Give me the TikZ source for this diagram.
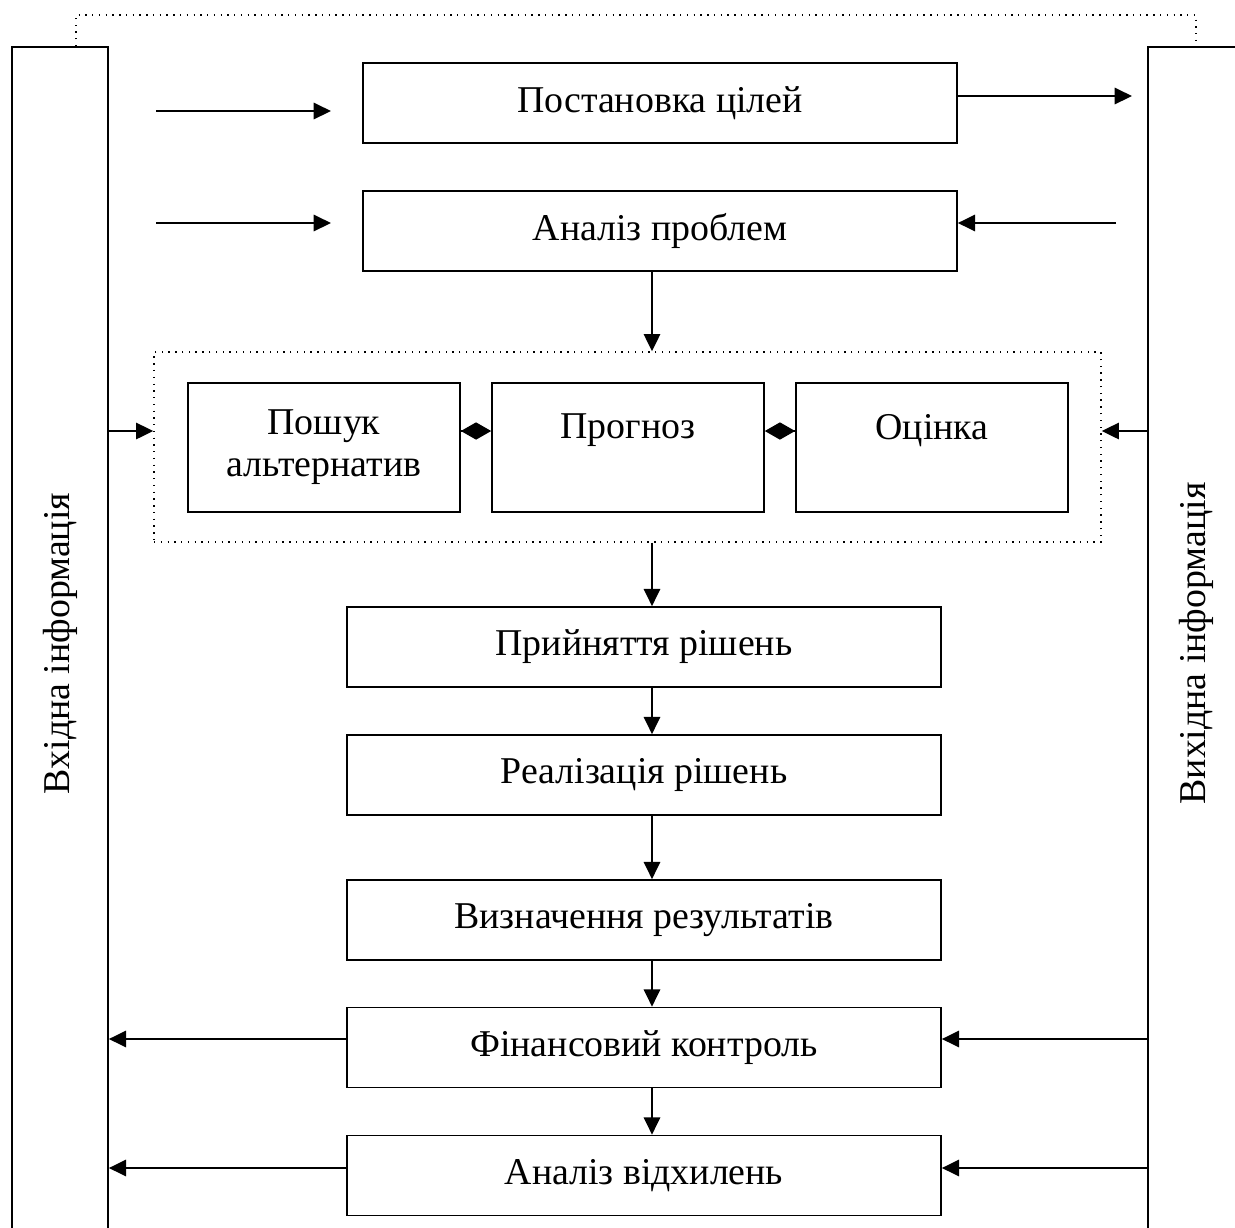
\documentclass[tikz,border=0pt]{standalone}
\usepackage{fontspec}
\setmainfont{Liberation Serif}
\usepackage{graphicx}
\usetikzlibrary{arrows.meta}

\begin{document}
\begin{tikzpicture}[x=0.013cm, y=-0.013cm]

    \tikzset{%
        every node/.style={font=\fontsize{14pt}{15.5pt}\selectfont},
        stage/.style={draw, line width=0.6pt, inner sep=0pt,
                minimum width=594*0.013cm, minimum height=80*0.013cm},
        subStage/.style={draw, line width=0.6pt, inner sep=0pt, align=center,
                minimum width=272*0.013cm, minimum height=129*0.013cm},
        infoCol/.style={draw, line width=0.6pt, inner sep=0pt,
                minimum width=96*0.013cm, minimum height=1193*0.013cm},
        group/.style={draw, dotted, line width=0.5pt, inner sep=0pt,
                minimum width=947*0.013cm, minimum height=190*0.013cm},
        flow/.style={-{Triangle[length=6.4pt, width=6pt]}, line width=0.9pt},
        link/.style={-{Diamond[length=11.2pt, width=6.4pt]}, line width=0.9pt}
    }

    \useasboundingbox (0, 0) rectangle (1235, 1228);
    \clip (0, 0) rectangle (1235, 1228);

    % information columns
    \node[infoCol] (lcol) at (60, 643.5) {\rotatebox{90}{Вхідна інформація}};
    \node[infoCol] (rcol) at (1196, 643.5) {\rotatebox{90}{Вихідна інформація}};

    \coordinate (topL) at (76, 15);
    \coordinate (topR) at (1196, 15);
    \draw[dotted, line width=0.5pt] (topL |- lcol.north) -- (topL) -- (topR) -- (topR |- rcol.north);

    % stages
    \node[stage] (goal) at (660, 103) {Постановка цілей};
    \node[stage] (prob) at (660, 231) {Аналіз проблем};

    \node[group] (grp) at (627.5, 447) {};
    \node[subStage] (search) at (324, 447.5) {Пошук\\альтернатив};
    \node[subStage] (forecast) at (628, 447.5) {Прогноз\\ \mbox{}};
    \node[subStage] (estim) at (932, 447.5) {Оцінка\\ \mbox{}};

    \node[stage] (decide) at (644, 647) {Прийняття рішень};
    \node[stage] (impl) at (644, 775) {Реалізація рішень};
    \node[stage] (result) at (644, 920) {Визначення результатів};
    \node[stage] (fin) at (644, 1047.5) {Фінансовий контроль};
    \node[stage] (dev) at (644, 1175.5) {Аналіз відхилень};

    % connectors
    \coordinate (ax) at (652, 0);
    \coordinate (goalInStart) at (156, 111);
    \coordinate (goalInEnd) at (331, 111);
    \coordinate (probInStart) at (156, 223);
    \coordinate (probInEnd) at (331, 223);
    \coordinate (goalOut) at (1132, 96);
    \coordinate (probBack) at (1116, 223);
    \coordinate (linkY) at (0, 431);
    \coordinate (finY) at (0, 1039);
    \coordinate (devY) at (0, 1168);

    \draw[flow] (goalInStart) -- (goalInEnd);
    \draw[flow] (probInStart) -- (probInEnd);
    \draw[flow] (goal.east |- goalOut) -- (goalOut);
    \draw[flow] (probBack) -- (prob.east |- probBack);

    \draw[flow] (prob.south -| ax) -- (grp.north -| ax);
    \foreach \a/\b in {grp/decide, decide/impl, impl/result, result/fin, fin/dev} {%
            \draw[flow] (\a.south -| ax) -- (\b.north -| ax);
        }

    \draw[link] (search.east |- linkY) -- (forecast.west |- linkY);
    \draw[link] (estim.west |- linkY) -- (forecast.east |- linkY);
    \draw[flow] (lcol.east |- linkY) -- (grp.west |- linkY);
    \draw[flow] (rcol.west |- linkY) -- (grp.east |- linkY);

    \foreach \s/\y in {fin/finY, dev/devY} {%
            \draw[flow] (\s.west |- \y) -- (lcol.east |- \y);
            \draw[flow] (rcol.west |- \y) -- (\s.east |- \y);
        }

\end{tikzpicture}
\end{document}
